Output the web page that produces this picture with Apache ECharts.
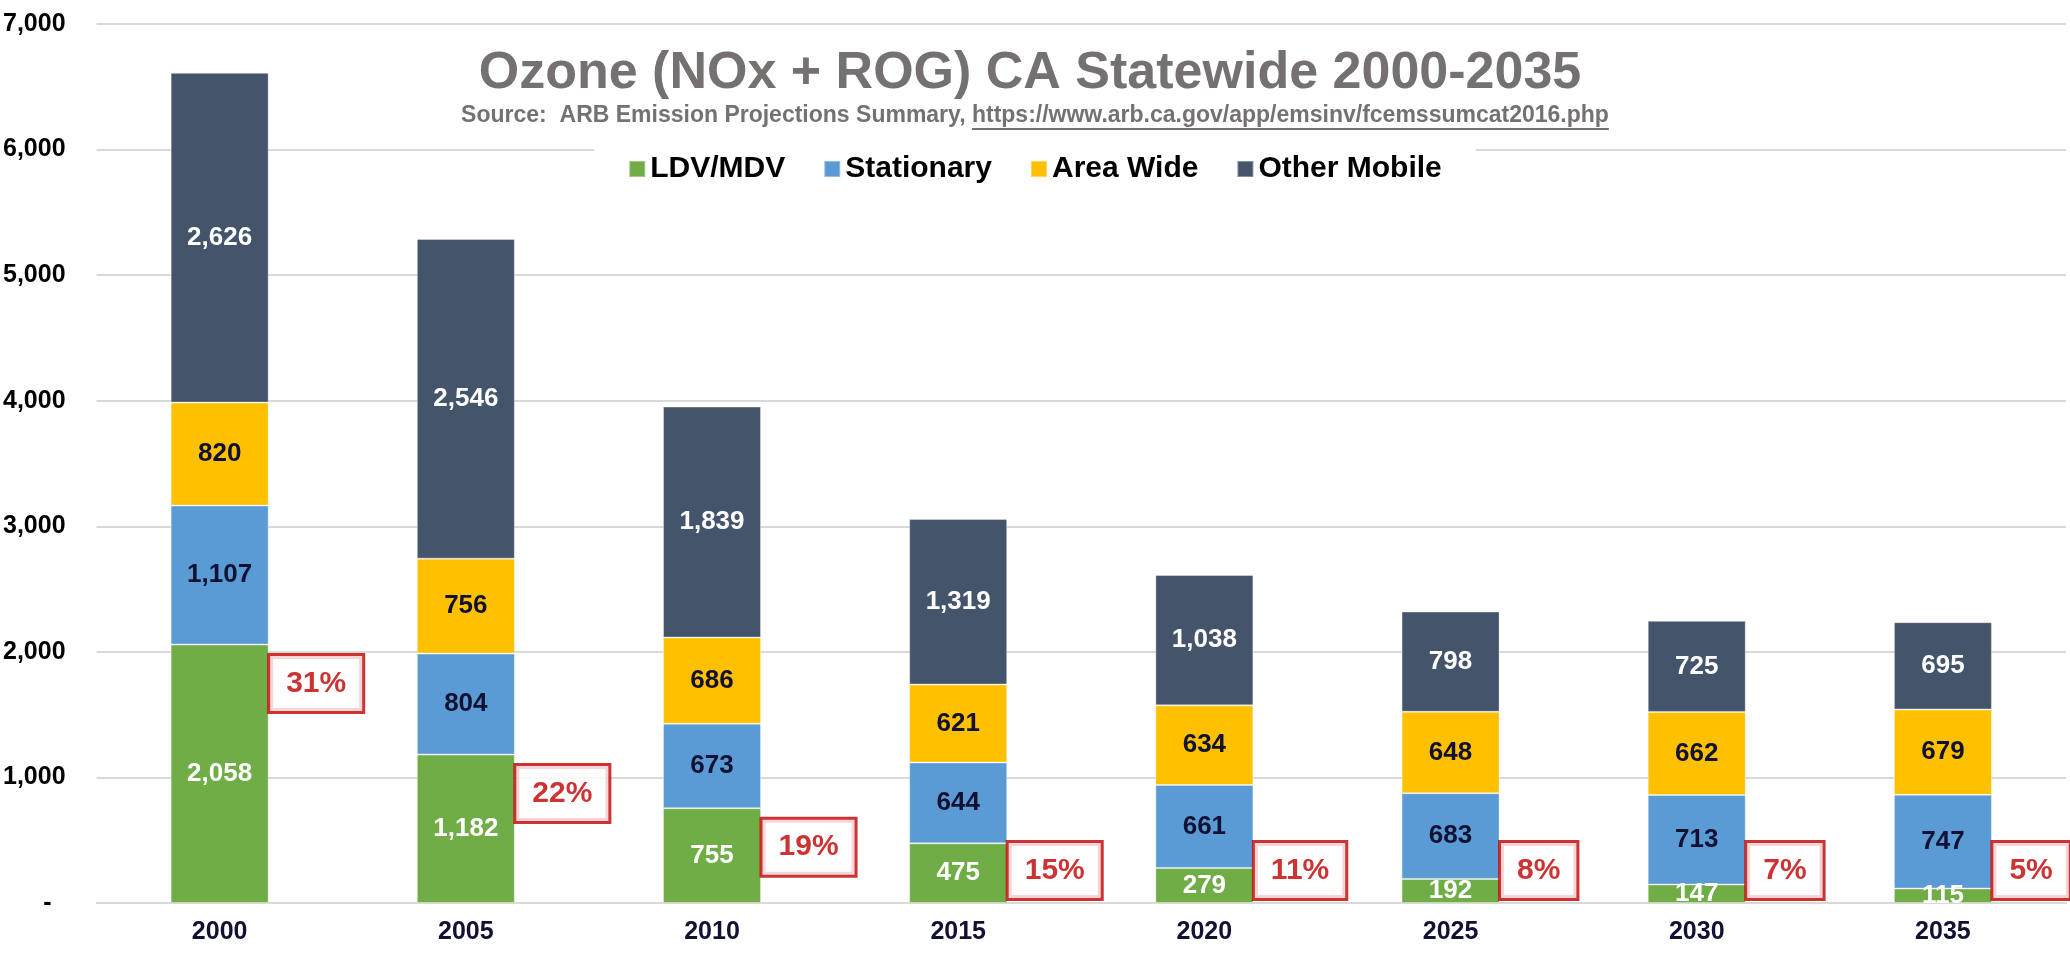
<!DOCTYPE html>
<html>
<head>
<meta charset="utf-8">
<title>Ozone (NOx + ROG) CA Statewide 2000-2035</title>
<script src="https://cdn.jsdelivr.net/npm/echarts@6/dist/echarts.min.js"></script>
<style>
  html, body { margin: 0; padding: 0; background: #fff; }
  #main { width: 2070px; height: 955px; }
</style>
</head>
<body>
<div id="main"></div>
<script>
// data (tons/day)
var years = ['2000', '2005', '2010', '2015', '2020', '2025', '2030', '2035'];
var ldvMdv = [2058, 1182, 755, 475, 279, 192, 147, 115];
var stationary = [1107, 804, 673, 644, 661, 683, 713, 747];
var areaWide = [820, 756, 686, 621, 634, 648, 662, 679];
var otherMobile = [2626, 2546, 1839, 1319, 1038, 798, 725, 695];
// LDV/MDV share of the total, as printed in the red boxes
var ldvShare = ['31%', '22%', '19%', '15%', '11%', '8%', '7%', '5%'];
var yTicks = [0, 1000, 2000, 3000, 4000, 5000, 6000, 7000];

var FONT = '"Liberation Sans", Arial, sans-serif';
var NAVY = '#111133';
var GREY = '#767171';
var RED = '#C00000';
var LABEL_FLOOR = 570; // boxes don't sink lower than this

var titleText = 'Ozone (NOx + ROG) CA Statewide 2000-2035';
var subPrefix = 'Source:  ARB Emission Projections Summary, ';
var subUrl = 'https://www.arb.ca.gov/app/emsinv/fcemssumcat2016.php';
var TITLE_SIZE = 52;
var SUB_SIZE = 23;

function commas(v) {
    return Number(v).toLocaleString('en-US');
}

// measure title + subtitle so they can be placed and the url underlined
var ctx = document.createElement('canvas').getContext('2d');
ctx.font = 'bold ' + TITLE_SIZE + 'px ' + FONT;
var titleW = ctx.measureText(titleText).width;
var titleLeft = 1030 - titleW / 2;
ctx.font = 'bold ' + SUB_SIZE + 'px ' + FONT;
var preW = ctx.measureText(subPrefix).width;
var urlW = ctx.measureText(subUrl).width;
var subLeft = 1035 - (preW + urlW) / 2;

function segLabel(color) {
    return {
        show: true,
        position: 'inside',
        color: color,
        fontFamily: FONT,
        fontWeight: 'bold',
        fontSize: 26,
        formatter: function (p) { return commas(p.value); }
    };
}

function stackBar(name, data, color, labelColor) {
    return {
        name: name,
        type: 'bar',
        stack: 'total',
        barWidth: 98,
        data: data,
        itemStyle: {
            color: color,
            borderColor: 'rgba(255,255,255,0.35)',
            borderWidth: 1
        },
        label: segLabel(labelColor)
    };
}

var myChart = echarts.init(document.getElementById('main'));

var option = {
    backgroundColor: '#fff',
    animation: false,
    title: [
        {
            text: titleText,
            left: titleLeft,
            top: 48,
            padding: 0,
            textStyle: {
                color: GREY,
                fontFamily: FONT,
                fontWeight: 'bold',
                fontSize: TITLE_SIZE
            }
        },
        {
            text: subPrefix + subUrl,
            left: subLeft,
            top: 104,
            padding: 0,
            textStyle: {
                color: GREY,
                fontFamily: FONT,
                fontWeight: 'bold',
                fontSize: SUB_SIZE
            }
        }
    ],
    graphic: [
        {
            type: 'line',
            shape: { x1: subLeft + preW, y1: 129, x2: subLeft + preW + urlW, y2: 129 },
            style: { stroke: GREY, lineWidth: 2 }
        }
    ],
    legend: {
        data: ['LDV/MDV', 'Stationary', 'Area Wide', 'Other Mobile'],
        left: 'center',
        top: 134,
        padding: [20, 34],
        backgroundColor: '#fff',
        itemWidth: 16,
        itemHeight: 16,
        itemGap: 38,
        icon: 'rect',
        textStyle: {
            color: '#000',
            fontFamily: FONT,
            fontWeight: 'bold',
            fontSize: 30
        }
    },
    grid: {
        left: 96,
        right: 4,
        top: 24,
        bottom: 52
    },
    xAxis: {
        type: 'category',
        data: years,
        axisTick: { show: false },
        axisLine: {
            show: true,
            lineStyle: { color: '#d9d9d9', width: 2 }
        },
        axisLabel: {
            margin: 17,
            color: NAVY,
            fontFamily: FONT,
            fontWeight: 'bold',
            fontSize: 25
        }
    },
    yAxis: {
        type: 'value',
        min: yTicks[0],
        max: yTicks[yTicks.length - 1],
        interval: yTicks[1] - yTicks[0],
        axisLine: { show: false },
        axisTick: { show: false },
        splitLine: {
            lineStyle: { color: '#d9d9d9', width: 2 }
        },
        axisLabel: {
            margin: 31,
            color: '#000',
            fontFamily: FONT,
            fontWeight: 'bold',
            fontSize: 25,
            formatter: function (v) { return v === 0 ? '-  ' : commas(v); }
        }
    },
    series: [
        stackBar('LDV/MDV', ldvMdv, '#70AD47', '#fff'),
        stackBar('Stationary', stationary, '#5B9BD5', NAVY),
        stackBar('Area Wide', areaWide, '#FFC000', NAVY),
        stackBar('Other Mobile', otherMobile, '#44546A', '#fff'),
        {
            name: 'share',
            type: 'scatter',
            symbolSize: 1,
            itemStyle: { color: 'rgba(0,0,0,0)' },
            z: 5,
            data: ldvMdv.map(function (v, i) {
                return [i, Math.max(v, LABEL_FLOOR)];
            }),
            label: {
                show: true,
                position: 'right',
                distance: 0,
                offset: [50, 39],
                color: RED,
                fontFamily: FONT,
                fontWeight: 'bold',
                fontSize: 30,
                lineHeight: 32,
                backgroundColor: '#fff',
                borderColor: RED,
                borderWidth: 3,
                padding: [12, 16, 11, 16],
                formatter: function (p) { return ldvShare[p.dataIndex]; }
            }
        }
    ]
};

myChart.setOption(option);
</script>
</body>
</html>
